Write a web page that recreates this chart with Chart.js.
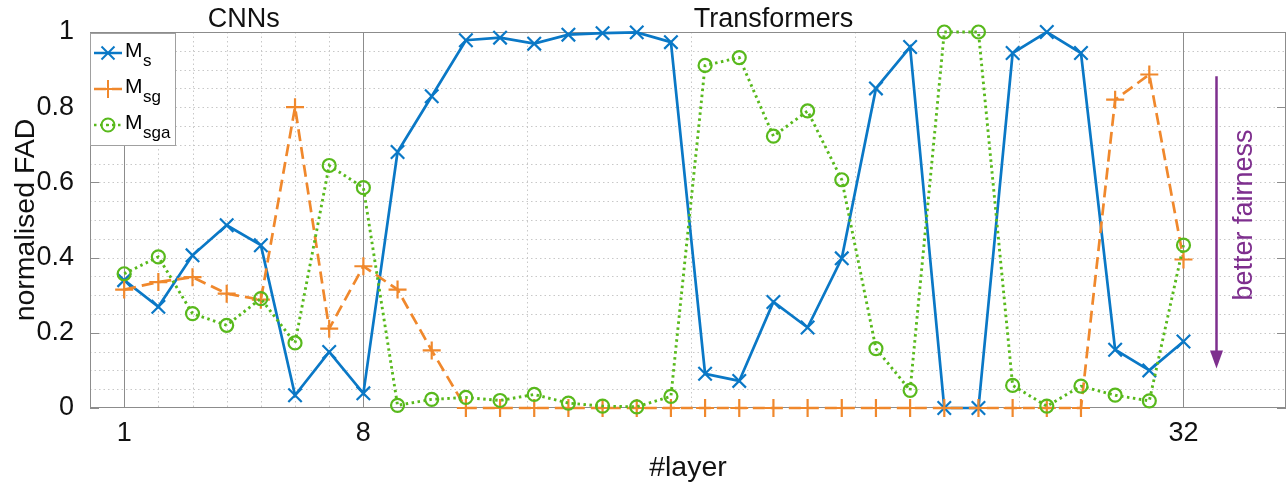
<!DOCTYPE html>
<html>
<head>
<meta charset="utf-8">
<script src="https://cdn.jsdelivr.net/npm/chart.js@4.4.1/dist/chart.umd.min.js"></script>
<style>
  html, body { margin: 0; padding: 0; background: #fff; }
  #wrap { width: 1288px; height: 486px; }
</style>
</head>
<body>
<div id="wrap"><canvas id="fadChart"></canvas></div>
<script>
// layers and normalised FAD per model variant
var layers = [1, 2, 3, 4, 5, 6, 7, 8, 9, 10, 11, 12, 13, 14, 15, 16,
              17, 18, 19, 20, 21, 22, 23, 24, 25, 26, 27, 28, 29, 30, 31, 32];
var msValues = [0.34, 0.269, 0.406, 0.486, 0.433, 0.034, 0.149, 0.039, 0.681, 0.829, 0.978, 0.985, 0.969, 0.993, 0.997, 0.999,
                0.973, 0.091, 0.072, 0.282, 0.214, 0.398, 0.85, 0.96, 0, 0, 0.944, 1.0, 0.944, 0.155, 0.1, 0.177];
var msgValues = [0.315, 0.335, 0.348, 0.304, 0.288, 0.80, 0.211, 0.377, 0.315, 0.153, 0, 0, 0, 0, 0, 0,
                 0, 0, 0, 0, 0, 0, 0, 0, 0, 0, 0, 0, 0, 0.82, 0.887, 0.395];
var msgaValues = [0.357, 0.402, 0.251, 0.22, 0.291, 0.173, 0.645, 0.586, 0.007, 0.023, 0.028, 0.02, 0.036, 0.013, 0.005, 0.003,
                  0.031, 0.911, 0.932, 0.723, 0.79, 0.607, 0.158, 0.047, 1.0, 1.0, 0.06, 0.005, 0.058, 0.034, 0.019, 0.433];
var xTickValues = [1, 8, 32];
var blockNames = ["CNNs", "Transformers"];

var FONT = "'Liberation Sans', Arial, Helvetica, sans-serif";
var TEXT = "#111";
var BLUE = "#0a78c6", ORANGE = "#f0882c", GREEN = "#58b91c", PURPLE = "#7e2f8e";

function toXY(vals) {
    return layers.map(function (l, i) { return { x: l, y: vals[i] }; });
}

function seg(ctx, x1, y1, x2, y2) {
    ctx.beginPath(); ctx.moveTo(x1, y1); ctx.lineTo(x2, y2); ctx.stroke();
}

// grid, frame, inward ticks
var framePlugin = {
    id: "frame",
    beforeDatasetsDraw: function (chart) {
        var ctx = chart.ctx, a = chart.chartArea;
        var xs = chart.scales.x, ys = chart.scales.y;
        ctx.save();
        ctx.lineWidth = 1;
        ctx.strokeStyle = "#c8c8c8";
        ctx.setLineDash([1.5, 3]);
        for (var k = 1; k < 20; k++) {
            var py = Math.round(ys.getPixelForValue(k * 0.05)) + 0.5;
            seg(ctx, a.left, py, a.right, py);
        }
        var minors = [];
        for (var v = xTickValues[0] + 1; v < xTickValues[1]; v++) minors.push(v);
        var step = (xTickValues[2] - xTickValues[1]) / 5;
        for (k = 1; k < 5; k++) minors.push(xTickValues[1] + k * step);
        minors.forEach(function (mv) {
            var px = Math.round(xs.getPixelForValue(mv)) + 0.5;
            seg(ctx, px, a.top, px, a.bottom);
        });
        ctx.setLineDash([]);
        ctx.strokeStyle = "#8c8c8c";
        xTickValues.forEach(function (tv) {
            var px = Math.round(xs.getPixelForValue(tv)) + 0.5;
            seg(ctx, px, a.top, px, a.bottom);
        });
        ctx.strokeRect(a.left + 0.5, a.top + 0.5, a.right - a.left - 1, a.bottom - a.top - 1);
        for (k = 0; k <= 5; k++) {
            var ty = Math.round(ys.getPixelForValue(k * 0.2)) + 0.5;
            seg(ctx, a.left, ty, a.left + 9, ty);
            seg(ctx, a.right - 9, ty, a.right, ty);
        }
        ctx.restore();
    },
    afterDraw: function (chart) {
        var ctx = chart.ctx, a = chart.chartArea;
        var xs = chart.scales.x, ys = chart.scales.y;
        ctx.save();
        // block labels
        ctx.fillStyle = TEXT;
        ctx.font = "27px " + FONT;
        ctx.textAlign = "center";
        ctx.textBaseline = "alphabetic";
        ctx.fillText(blockNames[0], xs.getPixelForValue((xTickValues[0] + xTickValues[1]) / 2), 27);
        ctx.fillText(blockNames[1], xs.getPixelForValue((xTickValues[1] + xTickValues[2]) / 2), 27);

        // arrow "better fairness"
        var ax = Math.round(xs.getPixelForValue(32.96)) + 0.5;
        var yTop = ys.getPixelForValue(0.882), yTip = ys.getPixelForValue(0.105);
        ctx.strokeStyle = PURPLE; ctx.fillStyle = PURPLE; ctx.lineWidth = 2.5;
        seg(ctx, ax, yTop, ax, yTip - 14);
        ctx.beginPath();
        ctx.moveTo(ax - 6.5, yTip - 18); ctx.lineTo(ax + 6.5, yTip - 18); ctx.lineTo(ax, yTip);
        ctx.closePath(); ctx.fill();
        ctx.translate(1252, 215);
        ctx.rotate(-Math.PI / 2);
        ctx.fillText("better fairness", 0, 0);
        ctx.restore();

        // legend
        ctx.save();
        var lx = a.left, ly = 33, lw = 86, lh = 113;
        ctx.fillStyle = "#fff";
        ctx.fillRect(lx, ly, lw, lh);
        ctx.strokeStyle = "#a0a0a0"; ctx.lineWidth = 1;
        ctx.strokeRect(lx + 0.5, ly + 0.5, lw - 1, lh - 1);
        var entries = chart.data.datasets.slice();
        entries.sort(function (p, q) { return p.legendRank - q.legendRank; });
        entries.forEach(function (ds, i) {
            var cy = 53 + i * 36;
            ctx.strokeStyle = ds.borderColor; ctx.lineWidth = 2.5;
            ctx.setLineDash(ds.borderDash || []);
            seg(ctx, lx + 4, cy, lx + 32, cy);
            ctx.setLineDash([]);
            drawMarker(ctx, ds.pointStyle, lx + 18, cy, ds.borderColor);
            ctx.fillStyle = "#000";
            ctx.textAlign = "left"; ctx.textBaseline = "alphabetic";
            ctx.font = "21px " + FONT;
            ctx.fillText("M", lx + 35, cy + 3.5);
            var mw = ctx.measureText("M").width;
            ctx.font = "17px " + FONT;
            ctx.fillText(ds.sub, lx + 35 + mw + 0.5, cy + 12.5);
        });
        ctx.restore();
    }
};

function drawMarker(ctx, style, x, y, color) {
    ctx.strokeStyle = color; ctx.lineWidth = 2;
    if (style === "crossRot") {
        seg(ctx, x - 6.5, y - 6.5, x + 6.5, y + 6.5);
        seg(ctx, x - 6.5, y + 6.5, x + 6.5, y - 6.5);
    } else if (style === "cross") {
        seg(ctx, x - 9, y, x + 9, y);
        seg(ctx, x, y - 9, x, y + 9);
    } else {
        ctx.beginPath(); ctx.arc(x, y, 6.5, 0, Math.PI * 2); ctx.stroke();
        ctx.fillStyle = color; ctx.fillRect(x - 1, y - 1, 2, 2);
    }
}

var ctx = document.getElementById("fadChart").getContext("2d");
var fadChart = new Chart(ctx, {
    type: "line",
    data: {
        datasets: [{
            label: "Ms", sub: "s", legendRank: 0, order: 2,
            data: toXY(msValues),
            borderColor: BLUE, borderWidth: 2.7,
            pointStyle: "crossRot", pointRadius: 9.5, pointBorderWidth: 2.2,
            pointBorderColor: BLUE, pointBackgroundColor: "rgba(0,0,0,0)",
            tension: 0, clip: false
        }, {
            label: "Msg", sub: "sg", legendRank: 1, order: 1,
            data: toXY(msgValues),
            borderColor: ORANGE, borderWidth: 2.7, borderDash: [12, 6],
            pointStyle: "cross", pointRadius: 9, pointBorderWidth: 2.2,
            pointBorderColor: ORANGE, pointBackgroundColor: "rgba(0,0,0,0)",
            tension: 0, clip: false
        }, {
            label: "Msga", sub: "sga", legendRank: 2, order: 0,
            data: toXY(msgaValues),
            borderColor: GREEN, borderWidth: 2.9, borderDash: [2.5, 3.5],
            pointStyle: "circle", pointRadius: 6.5, pointBorderWidth: 2.2,
            pointBorderColor: GREEN, pointBackgroundColor: "rgba(0,0,0,0)",
            tension: 0, clip: false
        }]
    },
    options: {
        responsive: true,
        maintainAspectRatio: false,
        animation: false,
        devicePixelRatio: 1,
        layout: { autoPadding: false, padding: { top: 32, right: 2, left: 0, bottom: 0 } },
        plugins: { legend: { display: false }, tooltip: { enabled: false } },
        scales: {
            x: {
                type: "linear", min: 0, max: 35,
                afterBuildTicks: function (s) {
                    s.ticks = xTickValues.map(function (v) { return { value: v }; });
                },
                afterFit: function (s) {
                    s.height = 78;
                    s.paddingLeft = 0; s.paddingRight = 0;
                },
                grid: { display: false },
                border: { display: false },
                ticks: { autoSkip: false, maxRotation: 0, padding: 1, color: TEXT,
                         font: { family: FONT, size: 27 } },
                title: { display: true, text: "#layer", color: TEXT,
                         font: { family: FONT, size: 28.5 }, padding: { top: 0, bottom: 1 } }
            },
            y: {
                min: 0, max: 1,
                afterFit: function (s) {
                    s.width = 90;
                    s.paddingTop = 0; s.paddingBottom = 0;
                },
                grid: { display: false },
                border: { display: false },
                ticks: { stepSize: 0.2, padding: 8, color: TEXT,
                         font: { family: FONT, size: 27 },
                         callback: function (v) { return String(Number(v.toFixed(2))); } },
                title: { display: true, text: "normalised FAD", color: TEXT,
                         font: { family: FONT, size: 28.5 }, padding: { top: 9, bottom: 0 } }
            }
        }
    },
    plugins: [framePlugin]
});
</script>
</body>
</html>
